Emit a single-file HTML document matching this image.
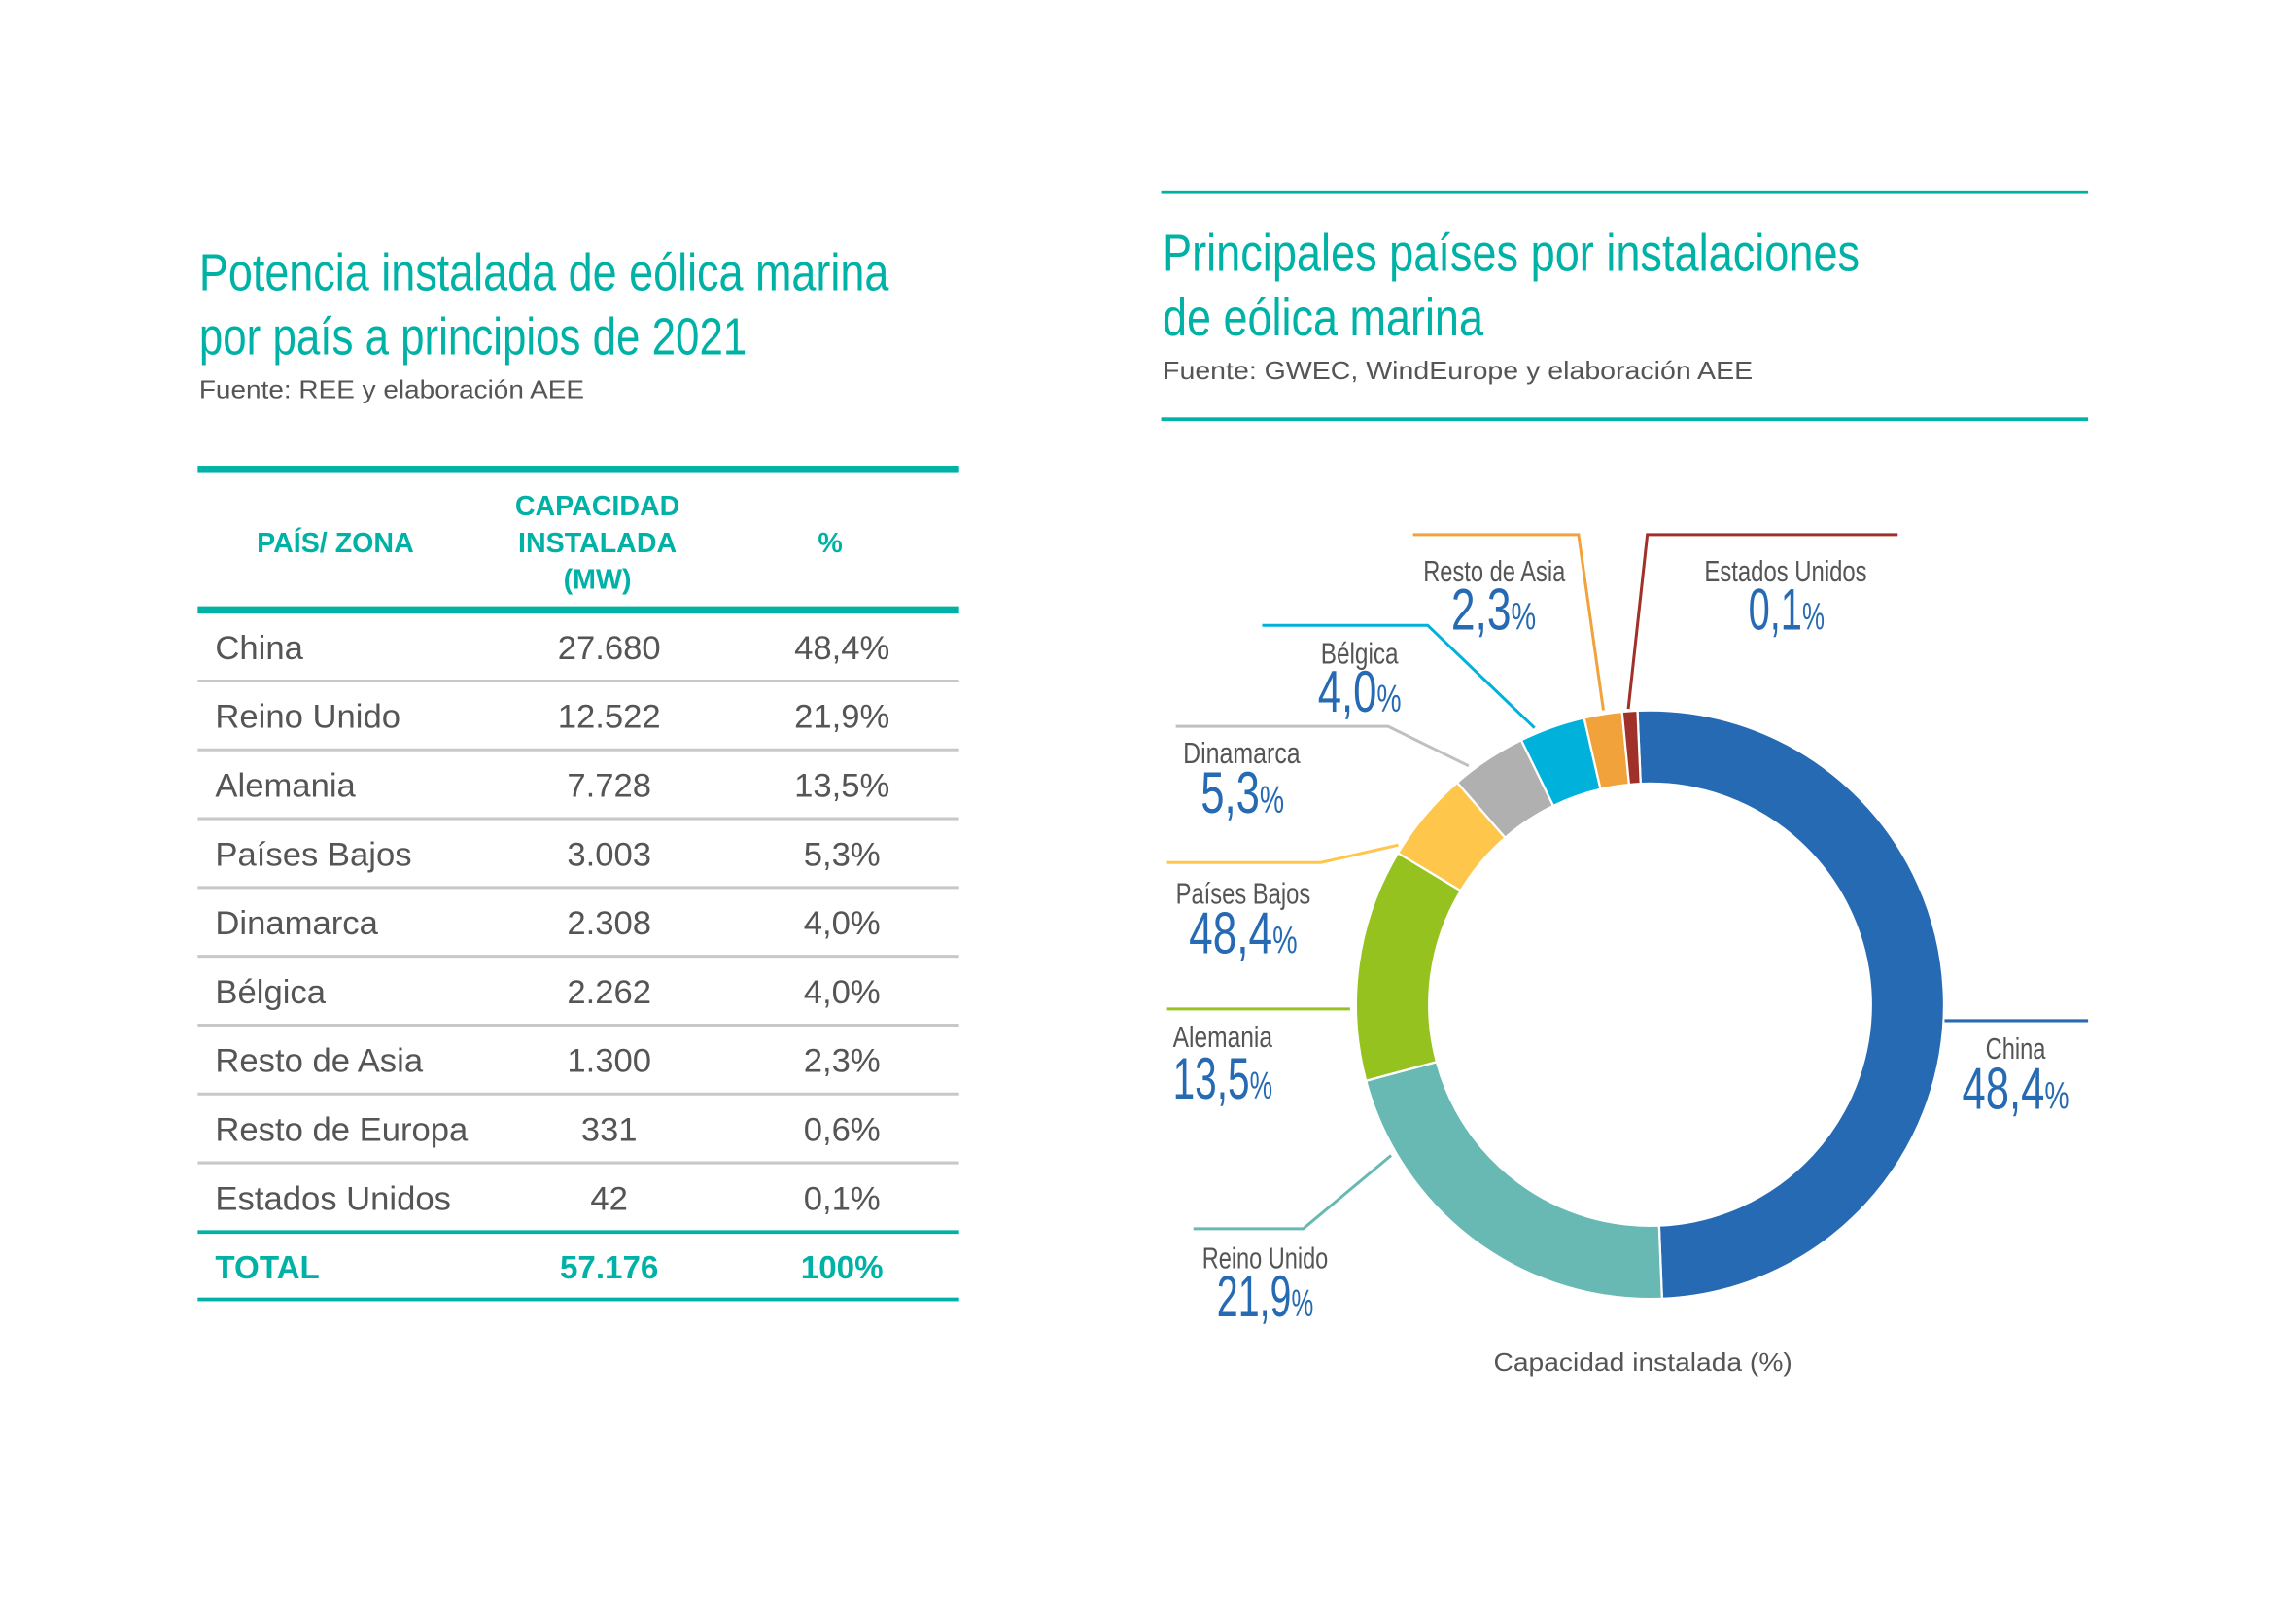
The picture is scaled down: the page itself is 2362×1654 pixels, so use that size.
<!DOCTYPE html>
<html><head><meta charset="utf-8"><style>html,body{margin:0;padding:0;background:#fff}svg{display:block}</style></head>
<body>
<svg width="2362" height="1654" viewBox="0 0 1568 1098" xmlns="http://www.w3.org/2000/svg" font-family="Liberation Sans, sans-serif">
<rect width="1568" height="1098" fill="#fff"/>
<!-- Left title -->
<g fill="#00b2a6" font-size="36">
<text x="136" y="198" textLength="471" lengthAdjust="spacingAndGlyphs">Potencia instalada de eólica marina</text>
<text x="136" y="242" textLength="374" lengthAdjust="spacingAndGlyphs">por país a principios de 2021</text>
</g>
<text x="136" y="272" font-size="17" fill="#555" textLength="263" lengthAdjust="spacingAndGlyphs">Fuente: REE y elaboración AEE</text>
<!-- Table -->
<rect x="135" y="318" width="520" height="5" fill="#00b2a6"/>
<rect x="135" y="414" width="520" height="5" fill="#00b2a6"/>
<g fill="#00b2a6" font-weight="bold" font-size="19" text-anchor="middle">
<text x="229" y="377">PAÍS/ ZONA</text>
<text x="408" y="352">CAPACIDAD</text>
<text x="408" y="377">INSTALADA</text>
<text x="408" y="402">(MW)</text>
<text x="567" y="377">%</text>
</g>
<g stroke="#c8c8c8" stroke-width="2">
<line x1="135" x2="655" y1="465" y2="465"/><line x1="135" x2="655" y1="512" y2="512"/>
<line x1="135" x2="655" y1="559" y2="559"/><line x1="135" x2="655" y1="606" y2="606"/>
<line x1="135" x2="655" y1="653" y2="653"/><line x1="135" x2="655" y1="700" y2="700"/>
<line x1="135" x2="655" y1="747" y2="747"/><line x1="135" x2="655" y1="794" y2="794"/>
</g>
<rect x="135" y="840" width="520" height="2.5" fill="#00b2a6"/>
<rect x="135" y="886" width="520" height="2.5" fill="#00b2a6"/>
<g fill="#555" font-size="23">
<text x="147" y="450">China</text><text x="147" y="497">Reino Unido</text><text x="147" y="544">Alemania</text>
<text x="147" y="591">Países Bajos</text><text x="147" y="638">Dinamarca</text><text x="147" y="685">Bélgica</text>
<text x="147" y="732">Resto de Asia</text><text x="147" y="779">Resto de Europa</text><text x="147" y="826">Estados Unidos</text>
</g>
<g fill="#555" font-size="23" text-anchor="middle">
<text x="416" y="450">27.680</text><text x="416" y="497">12.522</text><text x="416" y="544">7.728</text>
<text x="416" y="591">3.003</text><text x="416" y="638">2.308</text><text x="416" y="685">2.262</text>
<text x="416" y="732">1.300</text><text x="416" y="779">331</text><text x="416" y="826">42</text>
<text x="575" y="450">48,4%</text><text x="575" y="497">21,9%</text><text x="575" y="544">13,5%</text>
<text x="575" y="591">5,3%</text><text x="575" y="638">4,0%</text><text x="575" y="685">4,0%</text>
<text x="575" y="732">2,3%</text><text x="575" y="779">0,6%</text><text x="575" y="826">0,1%</text>
</g>
<g fill="#00b2a6" font-weight="bold" font-size="22">
<text x="147" y="873">TOTAL</text>
<text x="416" y="873" text-anchor="middle">57.176</text>
<text x="575" y="873" text-anchor="middle">100%</text>
</g>
<!-- Right title -->
<rect x="793" y="130" width="633" height="2.5" fill="#00b2a6"/>
<rect x="793" y="285" width="633" height="2.5" fill="#00b2a6"/>
<g fill="#00b2a6" font-size="36">
<text x="794" y="185" textLength="476" lengthAdjust="spacingAndGlyphs">Principales países por instalaciones</text>
<text x="794" y="229" textLength="219" lengthAdjust="spacingAndGlyphs">de eólica marina</text>
</g>
<text x="794" y="259" font-size="17" fill="#555" textLength="403" lengthAdjust="spacingAndGlyphs">Fuente: GWEC, WindEurope y elaboración AEE</text>
<!-- Donut -->
<g stroke="#fff" stroke-width="1.5" stroke-linejoin="round">
<path fill="#266ab3" d="M1118.24,485.19 A201,201 0 1 1 1135.07,886.84 L1133.06,836.88 A151,151 0 1 0 1120.42,535.14 Z"/>
<path fill="#68b9b3" d="M1135.07,886.84 A201,201 0 0 1 932.85,738.02 L981.14,725.08 A151,151 0 0 0 1133.06,836.88 Z"/>
<path fill="#95c21f" d="M932.85,738.02 A201,201 0 0 1 954.71,582.48 L997.57,608.23 A151,151 0 0 0 981.14,725.08 Z"/>
<path fill="#fec64b" d="M954.71,582.48 A201,201 0 0 1 995.13,534.30 L1027.93,572.04 A151,151 0 0 0 997.57,608.23 Z"/>
<path fill="#b0b0b0" d="M995.13,534.30 A201,201 0 0 1 1038.89,505.34 L1060.81,550.28 A151,151 0 0 0 1027.93,572.04 Z"/>
<path fill="#00b1db" d="M1038.89,505.34 A201,201 0 0 1 1081.79,490.15 L1093.03,538.87 A151,151 0 0 0 1060.81,550.28 Z"/>
<path fill="#f2a23a" d="M1081.79,490.15 A201,201 0 0 1 1107.73,485.92 L1112.53,535.69 A151,151 0 0 0 1093.03,538.87 Z"/>
<path fill="#a0302a" d="M1107.73,485.92 A201,201 0 0 1 1118.24,485.19 L1120.42,535.14 A151,151 0 0 0 1112.53,535.69 Z"/>
</g>
<!-- leaders -->
<g fill="none" stroke-width="2">
<polyline points="965,365 1078,365 1095,485" stroke="#f2a23a"/>
<polyline points="1296,365 1125,365 1112,484" stroke="#a0302a"/>
<polyline points="862,427 975,427 1048,497" stroke="#00b1db"/>
<polyline points="803,496 948,496 1003,523" stroke="#c0c0c0"/>
<polyline points="797,589 902,589 955,577" stroke="#fec64b"/>
<polyline points="797,689 922,689" stroke="#95c21f"/>
<polyline points="815,839 890,839 950,789" stroke="#68b9b3"/>
<polyline points="1328,697 1426,697" stroke="#266ab3"/>
</g>
<g fill="#555" font-size="20" lengthAdjust="spacingAndGlyphs">
<text x="972" y="397" textLength="97" lengthAdjust="spacingAndGlyphs">Resto de Asia</text>
<text x="1164" y="397" textLength="111" lengthAdjust="spacingAndGlyphs">Estados Unidos</text>
<text x="902" y="453" textLength="53" lengthAdjust="spacingAndGlyphs">Bélgica</text>
<text x="808" y="521" textLength="80" lengthAdjust="spacingAndGlyphs">Dinamarca</text>
<text x="803" y="617" textLength="92" lengthAdjust="spacingAndGlyphs">Países Bajos</text>
<text x="801" y="715" textLength="68" lengthAdjust="spacingAndGlyphs">Alemania</text>
<text x="821" y="866" textLength="86" lengthAdjust="spacingAndGlyphs">Reino Unido</text>
<text x="1356" y="723" textLength="41" lengthAdjust="spacingAndGlyphs">China</text>
</g>
<g fill="#266ab3" font-size="40">
<text x="991" y="430" textLength="58" lengthAdjust="spacingAndGlyphs">2,3<tspan font-size="26">%</tspan></text>
<text x="1194" y="430" textLength="52" lengthAdjust="spacingAndGlyphs">0,1<tspan font-size="26">%</tspan></text>
<text x="900" y="486" textLength="57" lengthAdjust="spacingAndGlyphs">4,0<tspan font-size="26">%</tspan></text>
<text x="820" y="555" textLength="57" lengthAdjust="spacingAndGlyphs">5,3<tspan font-size="26">%</tspan></text>
<text x="812" y="651" textLength="74" lengthAdjust="spacingAndGlyphs">48,4<tspan font-size="26">%</tspan></text>
<text x="801" y="750" textLength="68" lengthAdjust="spacingAndGlyphs">13,5<tspan font-size="26">%</tspan></text>
<text x="831" y="899" textLength="66" lengthAdjust="spacingAndGlyphs">21,9<tspan font-size="26">%</tspan></text>
<text x="1340" y="757" textLength="73" lengthAdjust="spacingAndGlyphs">48,4<tspan font-size="26">%</tspan></text>
</g>
<text x="1122" y="936" font-size="17" fill="#555" text-anchor="middle" textLength="204" lengthAdjust="spacingAndGlyphs">Capacidad instalada (%)</text>
</svg>
</body></html>
